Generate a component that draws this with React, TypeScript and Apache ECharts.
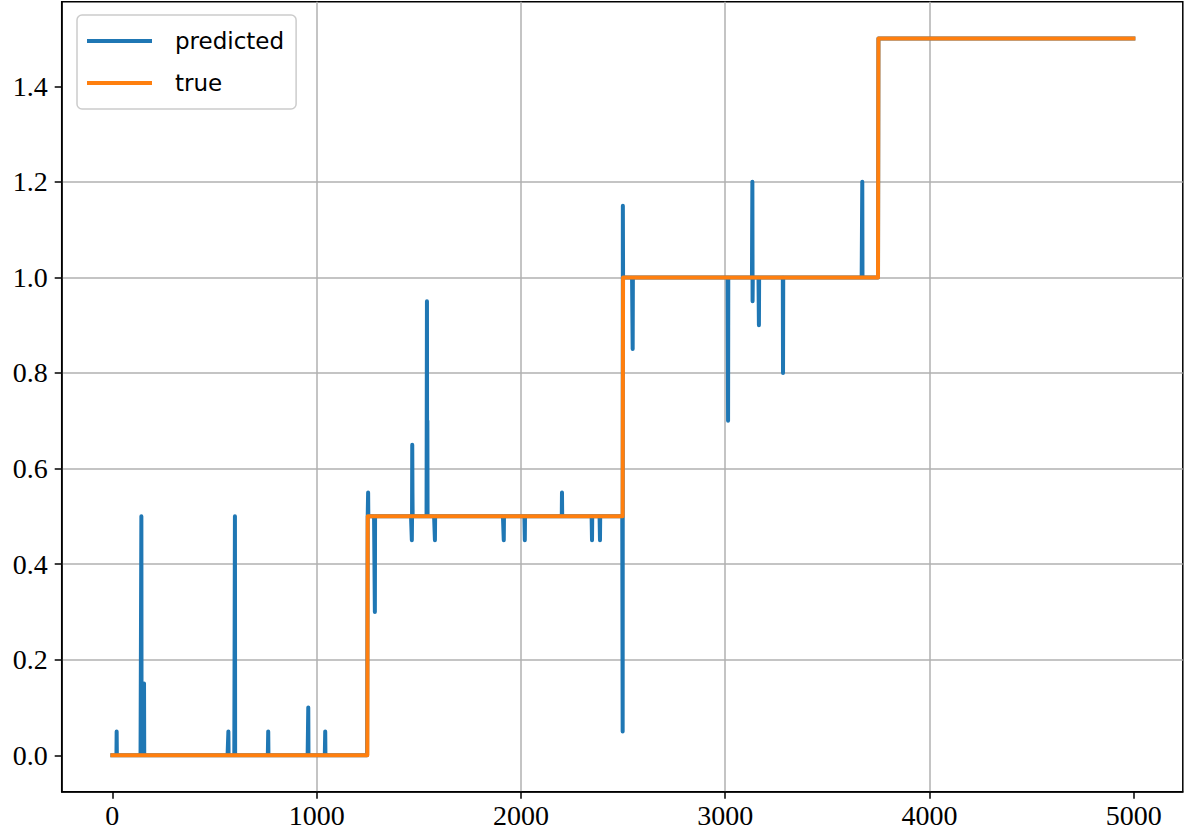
import React, { useEffect, useRef } from "react";
import * as echarts from "echarts";

// Number of samples in the sequence
const N = 5000;

// True value: step levels with their start index
const stepStarts = [0, 1250, 2500, 3750];
const stepLevels = [0.0, 0.5, 1.0, 1.5];

// Predicted value deviations from the true level: [index, predicted value]
const spikeIdx = [
  21, 142, 155, 568, 600, 763, 959, 1042,
  1252, 1285, 1466, 1468, 1469, 1540, 1542, 1579, 1916, 2019, 2201, 2348, 2387, 2498, 2499,
  2546, 2547, 3014, 3133, 3134, 3165, 3283, 3671,
];
const spikeVal = [
  0.05, 0.5, 0.15, 0.05, 0.5, 0.05, 0.1, 0.05,
  0.55, 0.3, 0.45, 0.65, 0.55, 0.95, 0.7, 0.45, 0.45, 0.45, 0.55, 0.45, 0.45, 0.05, 1.15,
  0.9, 0.85, 0.7, 1.2, 0.95, 0.9, 0.8, 1.2,
];

// Tick labels
const xTicks = [0, 1000, 2000, 3000, 4000, 5000];
const yTicks = [0.0, 0.2, 0.4, 0.6, 0.8, 1.0, 1.2, 1.4];

function levelAt(i: number): number {
  let v = stepLevels[0];
  for (let k = 0; k < stepStarts.length; k++) if (i >= stepStarts[k]) v = stepLevels[k];
  return v;
}

export default function App() {
  const ref = useRef<HTMLDivElement>(null);
  useEffect(() => {
    if (!ref.current) return;
    const chart = echarts.init(ref.current, undefined, { renderer: "svg" });
    const trueData: number[][] = [];
    const predMap = new Map<number, number>();
    spikeIdx.forEach((ix, k) => predMap.set(ix, spikeVal[k]));
    const predData: number[][] = [];
    for (let i = 0; i < N; i++) {
      const t = levelAt(i);
      trueData.push([i, t]);
      predData.push([i, predMap.has(i) ? (predMap.get(i) as number) : t]);
    }
    const axisLineStyle = { color: "#000", width: 1.5 };
    const gridLine = { color: "#b0b0b0", width: 1.5 };
    const labelFont = { fontFamily: "Liberation Serif", fontSize: 28, color: "#000" };
    chart.setOption({
      animation: false,
      backgroundColor: "#fff",
      grid: {
        left: 61.7,
        right: 1.2,
        top: 1.7,
        bottom: 42.3,
        show: true,
        borderColor: "#000",
        borderWidth: 1.5,
        backgroundColor: "transparent",
      },
      legend: {
        orient: "vertical",
        left: 77,
        top: 15,
        data: ["predicted", "true"],
        icon: "rect",
        itemWidth: 65,
        itemHeight: 4,
        itemGap: 18,
        padding: [14, 12, 14, 10],
        backgroundColor: "rgba(255,255,255,0.85)",
        borderColor: "#cccccc",
        borderWidth: 1.5,
        borderRadius: 5,
        textStyle: {
          fontFamily: "DejaVu Sans",
          fontSize: 23,
          color: "#000",
          lineHeight: 24,
          padding: [0, 0, 0, 18],
        },
      },
      xAxis: {
        type: "value",
        min: -248,
        max: 5240,
        axisLine: { show: true, onZero: false, lineStyle: axisLineStyle },
        axisTick: { show: true, length: 7, lineStyle: axisLineStyle, customValues: xTicks },
        axisLabel: { ...labelFont, margin: 10, customValues: xTicks, formatter: (v: number) => String(v) },
        splitLine: { show: true, lineStyle: gridLine, showMinLine: false, showMaxLine: false },
      },
      yAxis: {
        type: "value",
        min: -0.0762,
        max: 1.577,
        axisLine: { show: true, onZero: false, lineStyle: axisLineStyle },
        axisTick: { show: true, length: 7, lineStyle: axisLineStyle, customValues: yTicks },
        axisLabel: { ...labelFont, margin: 14, customValues: yTicks, formatter: (v: number) => v.toFixed(1) },
        splitLine: { show: true, lineStyle: gridLine, showMinLine: false, showMaxLine: false },
      },
      series: [
        {
          name: "predicted",
          type: "line",
          data: predData,
          color: "#1f77b4",
          symbol: "none",
          lineStyle: { width: 4, color: "#1f77b4", cap: "square", join: "round" },
          z: 2,
        },
        {
          name: "true",
          type: "line",
          data: trueData,
          color: "#ff7f0e",
          symbol: "none",
          lineStyle: { width: 4, color: "#ff7f0e", cap: "square", join: "round" },
          z: 3,
        },
      ],
    });
    return () => chart.dispose();
  }, []);
  return (
    <div
      ref={ref}
      style={{ position: "absolute", left: 0, top: 0, width: 1184, height: 834 }}
    />
  );
}
